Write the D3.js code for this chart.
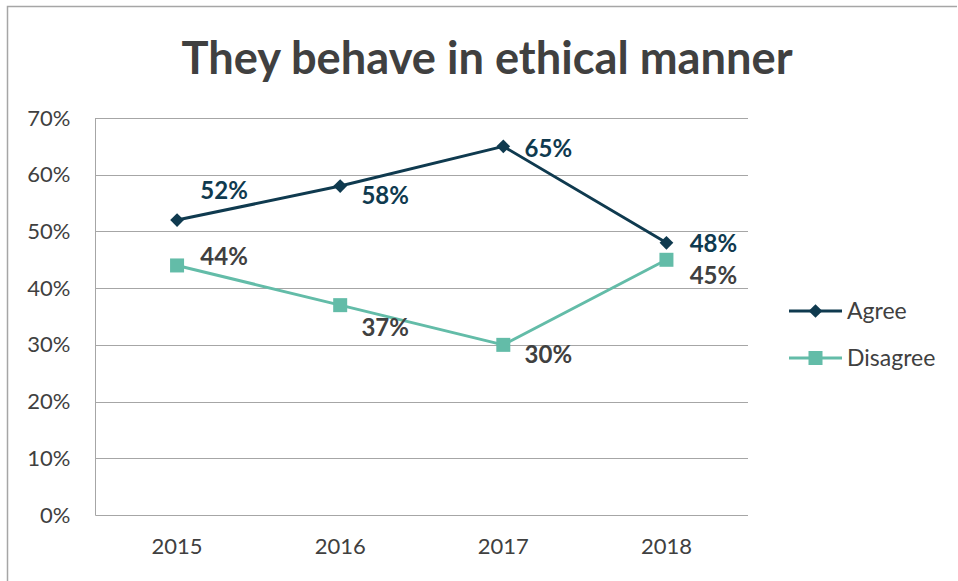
<!DOCTYPE html>
<html>
<head>
<meta charset="utf-8">
<script src="https://cdn.jsdelivr.net/npm/d3@7"></script>
<style>
  html, body { margin: 0; padding: 0; background: #fff; }
  svg { display: block; }
</style>
</head>
<body>
<svg id="chart" width="958" height="581"></svg>
<script>
// Survey data: share of respondents per year
const years = ["2015", "2016", "2017", "2018"];
const agree = [0.52, 0.58, 0.65, 0.48];
const disagree = [0.44, 0.37, 0.30, 0.45];
const yTicks = [0, 0.1, 0.2, 0.3, 0.4, 0.5, 0.6, 0.7];
const seriesNames = ["Agree", "Disagree"];
const titleText = "They behave in ethical manner";

// Label offsets (dx, dy) from each point to the centre of its value label
const agreeLabelOffsets = [[47, -30], [45, 9], [45, 2], [47, 1]];
const disagreeLabelOffsets = [[47, -9], [45, 22], [45, 10], [47, 16]];

const W = 958, H = 581;
const margin = { left: 95.5, right: 748, top: 118, bottom: 515 };
const font = "Lato, 'Open Sans', sans-serif";
const colAgree = "#0f3a4f";
const colDisagree = "#63bca8";
const textGray = "#404040";

const svg = d3.select("#chart");

// outer chart frame (left and top edges)
svg.append("path")
  .attr("d", `M7.5,${H} V6.5 H957`)
  .attr("fill", "none")
  .attr("stroke", "#a6a6a6")
  .attr("stroke-width", 1.5);

const x = d3.scaleBand().domain(years).range([margin.left, margin.right]);
const y = d3.scaleLinear().domain([0, 0.7]).range([margin.bottom, margin.top]);
const cx = d => x(d) + x.bandwidth() / 2;

// horizontal gridlines
svg.append("g")
  .selectAll("line")
  .data(yTicks)
  .join("line")
  .attr("x1", margin.left).attr("x2", margin.right)
  .attr("y1", d => Math.round(y(d)) + 0.5).attr("y2", d => Math.round(y(d)) + 0.5)
  .attr("stroke", "#a6a6a6").attr("stroke-width", 1);

// vertical axis line
svg.append("line")
  .attr("x1", margin.left).attr("x2", margin.left)
  .attr("y1", margin.top).attr("y2", margin.bottom + 0.5)
  .attr("stroke", "#a6a6a6");

// y axis labels
const yAxis = d3.axisLeft(y).tickValues(yTicks).tickFormat(d3.format(".0%")).tickSize(0).tickPadding(25);
const yg = svg.append("g").attr("transform", `translate(${margin.left},0)`).call(yAxis);
yg.select(".domain").remove();
yg.selectAll("text")
  .attr("font-family", font).attr("font-size", 22).attr("fill", textGray);

// x axis labels
const xAxis = d3.axisBottom(x).tickSize(0).tickPadding(23);
const xg = svg.append("g").attr("transform", `translate(0,${margin.bottom})`).call(xAxis);
xg.select(".domain").remove();
xg.selectAll("text")
  .attr("font-family", font).attr("font-size", 22).attr("fill", textGray);

// title
svg.append("text")
  .attr("x", 487).attr("y", 74)
  .attr("text-anchor", "middle")
  .attr("font-family", font).attr("font-weight", 700).attr("font-size", 45)
  .attr("fill", textGray)
  .attr("textLength", 611).attr("lengthAdjust", "spacingAndGlyphs")
  .text(titleText);

const line = d3.line().x((d, i) => cx(years[i])).y(d => y(d));

// Disagree series
svg.append("path").datum(disagree)
  .attr("d", line).attr("fill", "none")
  .attr("stroke", colDisagree).attr("stroke-width", 3).attr("stroke-linejoin", "round");
svg.append("g").selectAll("rect").data(disagree).join("rect")
  .attr("x", (d, i) => cx(years[i]) - 7).attr("y", d => y(d) - 7)
  .attr("width", 14).attr("height", 14).attr("fill", colDisagree);

// Agree series
svg.append("path").datum(agree)
  .attr("d", line).attr("fill", "none")
  .attr("stroke", colAgree).attr("stroke-width", 3).attr("stroke-linejoin", "round");
const diamond = d3.symbol().type(d3.symbolDiamond2).size(120);
svg.append("g").selectAll("path").data(agree).join("path")
  .attr("d", diamond)
  .attr("transform", (d, i) => `translate(${cx(years[i])},${y(d)})`)
  .attr("fill", colAgree);

// value labels
const pct = d3.format(".0%");
function labels(values, offsets, color) {
  svg.append("g").selectAll("text").data(values).join("text")
    .attr("x", (d, i) => cx(years[i]) + offsets[i][0])
    .attr("y", (d, i) => y(d) + offsets[i][1])
    .attr("dy", "0.36em")
    .attr("text-anchor", "middle")
    .attr("font-family", font).attr("font-weight", 700).attr("font-size", 24)
    .attr("fill", color)
    .text(d => pct(d));
}
labels(agree, agreeLabelOffsets, colAgree);
labels(disagree, disagreeLabelOffsets, textGray);

// legend
const legend = svg.append("g");
const legendItems = [
  { name: seriesNames[0], color: colAgree, marker: "diamond", y: 311 },
  { name: seriesNames[1], color: colDisagree, marker: "square", y: 358 }
];
legendItems.forEach(it => {
  legend.append("line")
    .attr("x1", 789).attr("x2", 842).attr("y1", it.y).attr("y2", it.y)
    .attr("stroke", it.color).attr("stroke-width", 3);
  if (it.marker === "diamond") {
    legend.append("path").attr("d", diamond)
      .attr("transform", `translate(815.5,${it.y})`).attr("fill", it.color);
  } else {
    legend.append("rect").attr("x", 808.5).attr("y", it.y - 7)
      .attr("width", 14).attr("height", 14).attr("fill", it.color);
  }
  legend.append("text")
    .attr("x", 847).attr("y", it.y).attr("dy", "0.36em")
    .attr("font-family", font).attr("font-size", 23).attr("fill", textGray)
    .text(it.name);
});
</script>
</body>
</html>
